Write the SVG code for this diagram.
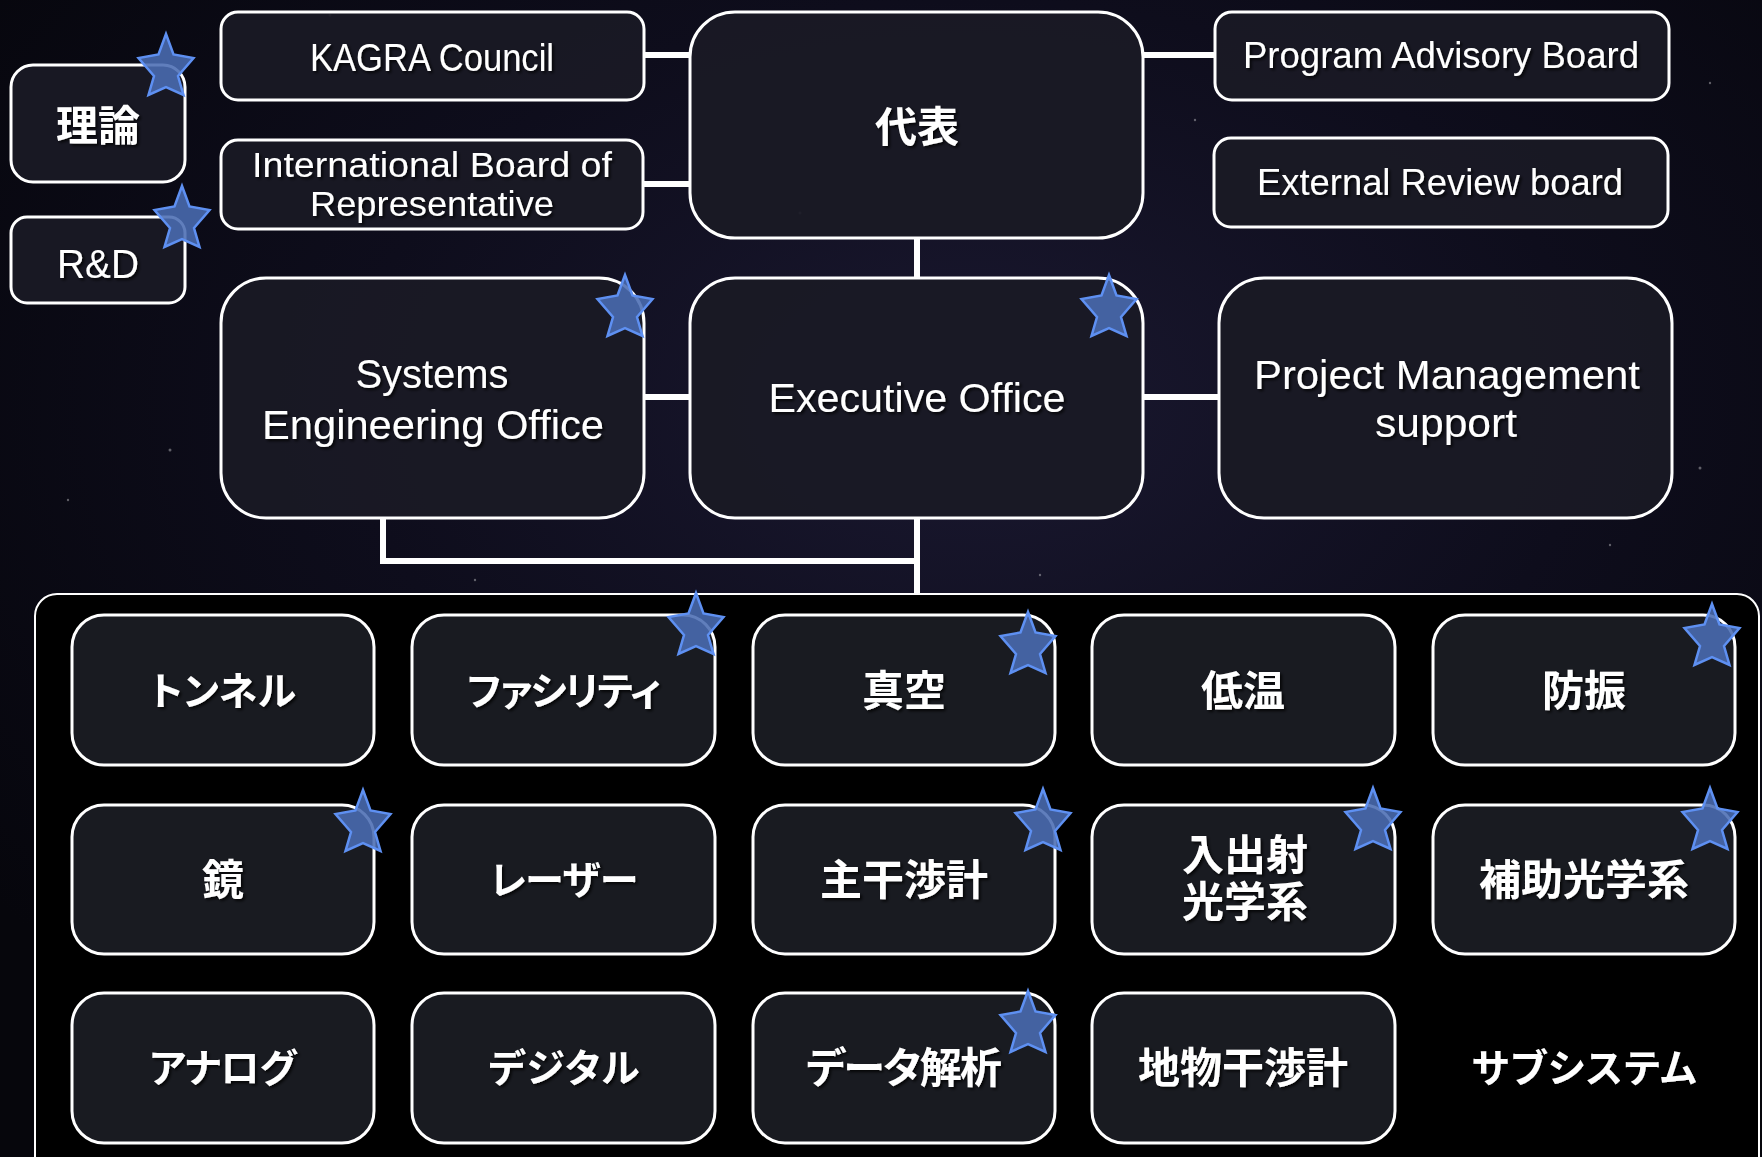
<svg xmlns="http://www.w3.org/2000/svg" width="1762" height="1157" viewBox="0 0 1762 1157">
<defs>
<radialGradient id="bg1" cx="0.55" cy="0.35" r="0.7">
<stop offset="0" stop-color="#1a1830"/>
<stop offset="0.5" stop-color="#0e0d1c"/>
<stop offset="1" stop-color="#06060c"/>
</radialGradient>
<path id="star" d="M0,-34 L7.5,-13.5 L27.5,-10 L12,8 L17.5,27 L0,19 L-17.5,27 L-12,8 L-27.5,-10 L-7.5,-13.5 Z"/>
<filter id="ts" x="-10%" y="-30%" width="120%" height="160%">
<feDropShadow dx="2" dy="2" stdDeviation="1.5" flood-color="#000" flood-opacity="0.8"/>
</filter>
</defs>
<style>
.box{fill:#1a1a25;fill-opacity:0.93;stroke:#ffffff;stroke-width:3}
.gbox{fill:#1a1c23;fill-opacity:0.95;stroke:#ffffff;stroke-width:3}
.en{font-family:"Liberation Sans",Arial,sans-serif;fill:#ffffff;text-anchor:middle;filter:url(#ts)}
.jp{font-family:"Noto Sans CJK JP","Noto Sans CJK SC",sans-serif;font-weight:bold;font-size:42px;fill:#ffffff;text-anchor:middle;font-feature-settings:"palt";filter:url(#ts)}
.kana{font-size:39px}
.st{fill:#4a6cb3;fill-opacity:0.88;stroke:#5e90f2;stroke-width:2.5;stroke-linejoin:miter}
.conn{stroke:#ffffff;stroke-width:6;fill:none}
.dot{fill:#ffffff;fill-opacity:0.35}
</style>
<rect x="0" y="0" width="1762" height="1157" fill="url(#bg1)"/>
<g id="background-dots">
<circle class="dot" cx="330" cy="15" r="1.5"/><circle class="dot" cx="170" cy="450" r="1.5"/>
<circle class="dot" cx="68" cy="500" r="1.2"/><circle class="dot" cx="1710" cy="83" r="1.2"/>
<circle class="dot" cx="1700" cy="468" r="1.5"/><circle class="dot" cx="1195" cy="120" r="1.2"/>
<circle class="dot" cx="800" cy="213" r="1.5"/><circle class="dot" cx="1610" cy="545" r="1.2"/>
<circle class="dot" cx="1040" cy="575" r="1.2"/><circle class="dot" cx="475" cy="580" r="1.2"/>
</g>

<g id="connectors">
<line class="conn" x1="644" y1="55" x2="690" y2="55"/>
<line class="conn" x1="643" y1="184" x2="690" y2="184"/>
<line class="conn" x1="1143" y1="55" x2="1215" y2="55"/>
<line class="conn" x1="917" y1="238" x2="917" y2="278"/>
<line class="conn" x1="644" y1="397" x2="690" y2="397"/>
<line class="conn" x1="1143" y1="397" x2="1219" y2="397"/>
<line class="conn" x1="917" y1="518" x2="917" y2="594"/>
<polyline class="conn" points="383,518 383,561 917,561"/>
</g>

<g id="subsystems-container">
<rect x="35" y="594" width="1724" height="620" rx="22" fill="#000000" stroke="#ffffff" stroke-width="2"/>
</g>

<g id="node-riron">
<rect class="box" x="11" y="65" width="174" height="117" rx="22"/>
<text class="jp" x="98" y="141">理論</text>
</g>
<g id="node-rnd">
<rect class="box" x="11" y="217" width="174" height="86" rx="16"/>
<text class="en" x="98" y="278" font-size="40" textLength="82" lengthAdjust="spacingAndGlyphs">R&amp;D</text>
</g>
<g id="node-kagra-council">
<rect class="box" x="221" y="12" width="423" height="88" rx="17"/>
<text class="en" x="432" y="71" font-size="38" textLength="244" lengthAdjust="spacingAndGlyphs">KAGRA Council</text>
</g>
<g id="node-ibr">
<rect class="box" x="221" y="140" width="422" height="89" rx="17"/>
<text class="en" x="432" y="177" font-size="35" textLength="360" lengthAdjust="spacingAndGlyphs">International Board of</text>
<text class="en" x="432" y="216" font-size="35" textLength="244" lengthAdjust="spacingAndGlyphs">Representative</text>
</g>
<g id="node-daihyo">
<rect class="box" x="690" y="12" width="453" height="226" rx="45"/>
<text class="jp" x="917" y="142">代表</text>
</g>
<g id="node-pab">
<rect class="box" x="1215" y="12" width="454" height="88" rx="17"/>
<text class="en" x="1441" y="68" font-size="37" textLength="396" lengthAdjust="spacingAndGlyphs">Program Advisory Board</text>
</g>
<g id="node-erb">
<rect class="box" x="1214" y="138" width="454" height="89" rx="17"/>
<text class="en" x="1440" y="195" font-size="37" textLength="366" lengthAdjust="spacingAndGlyphs">External Review board</text>
</g>
<g id="node-seo">
<rect class="box" x="221" y="278" width="423" height="240" rx="45"/>
<text class="en" x="432" y="388" font-size="40" textLength="153" lengthAdjust="spacingAndGlyphs">Systems</text>
<text class="en" x="433" y="439" font-size="40" textLength="342" lengthAdjust="spacingAndGlyphs">Engineering Office</text>
</g>
<g id="node-exec">
<rect class="box" x="690" y="278" width="453" height="240" rx="45"/>
<text class="en" x="917" y="412" font-size="40" textLength="297" lengthAdjust="spacingAndGlyphs">Executive Office</text>
</g>
<g id="node-pms">
<rect class="box" x="1219" y="278" width="453" height="240" rx="45"/>
<text class="en" x="1447" y="389" font-size="40" textLength="386" lengthAdjust="spacingAndGlyphs">Project Management</text>
<text class="en" x="1446" y="437" font-size="40" textLength="142" lengthAdjust="spacingAndGlyphs">support</text>
</g>

<g id="node-tunnel"><rect class="gbox" x="72" y="615" width="302" height="150" rx="32"/><text class="jp kana" x="223" y="705" textLength="146" lengthAdjust="spacing">トンネル</text></g>
<g id="node-facility"><rect class="gbox" x="412" y="615" width="303" height="150" rx="32"/><text class="jp kana" x="564" y="705" textLength="194" lengthAdjust="spacing">ファシリティ</text></g>
<g id="node-vacuum"><rect class="gbox" x="753" y="615" width="302" height="150" rx="32"/><text class="jp" x="904" y="706">真空</text></g>
<g id="node-cryo"><rect class="gbox" x="1092" y="615" width="303" height="150" rx="32"/><text class="jp" x="1243" y="706">低温</text></g>
<g id="node-vis"><rect class="gbox" x="1433" y="615" width="302" height="150" rx="32"/><text class="jp" x="1584" y="706">防振</text></g>

<g id="node-mirror"><rect class="gbox" x="72" y="805" width="302" height="149" rx="32"/><text class="jp" x="223" y="895">鏡</text></g>
<g id="node-laser"><rect class="gbox" x="412" y="805" width="303" height="149" rx="32"/><text class="jp kana" x="564" y="894" textLength="148" lengthAdjust="spacing">レーザー</text></g>
<g id="node-mif"><rect class="gbox" x="753" y="805" width="302" height="149" rx="32"/><text class="jp" x="904" y="895">主干渉計</text></g>
<g id="node-io"><rect class="gbox" x="1092" y="805" width="303" height="149" rx="32"/><text class="jp" x="1245" y="870">入出射</text><text class="jp" x="1245" y="917">光学系</text></g>
<g id="node-aux"><rect class="gbox" x="1433" y="805" width="302" height="149" rx="32"/><text class="jp" x="1584" y="895">補助光学系</text></g>

<g id="node-analog"><rect class="gbox" x="72" y="993" width="302" height="150" rx="32"/><text class="jp kana" x="223" y="1082" textLength="147" lengthAdjust="spacing">アナログ</text></g>
<g id="node-digital"><rect class="gbox" x="412" y="993" width="303" height="150" rx="32"/><text class="jp kana" x="564" y="1082" textLength="151" lengthAdjust="spacing">デジタル</text></g>
<g id="node-data"><rect class="gbox" x="753" y="993" width="302" height="150" rx="32"/><text class="jp" x="904" y="1083" textLength="196" lengthAdjust="spacing">データ解析</text></g>
<g id="node-geo"><rect class="gbox" x="1092" y="993" width="303" height="150" rx="32"/><text class="jp" x="1243" y="1083">地物干渉計</text></g>
<g id="label-subsystem"><text class="jp kana" x="1584" y="1082" textLength="225" lengthAdjust="spacing">サブシステム</text></g>

<g id="stars">
<use href="#star" class="st" x="166" y="68"/>
<use href="#star" class="st" x="182" y="220"/>
<use href="#star" class="st" x="625" y="309"/>
<use href="#star" class="st" x="1109" y="309"/>
<use href="#star" class="st" x="696" y="627"/>
<use href="#star" class="st" x="1028" y="646"/>
<use href="#star" class="st" x="1712" y="638"/>
<use href="#star" class="st" x="363" y="824"/>
<use href="#star" class="st" x="1043" y="823"/>
<use href="#star" class="st" x="1373" y="822"/>
<use href="#star" class="st" x="1710" y="822"/>
<use href="#star" class="st" x="1028" y="1025"/>
</g>
</svg>
